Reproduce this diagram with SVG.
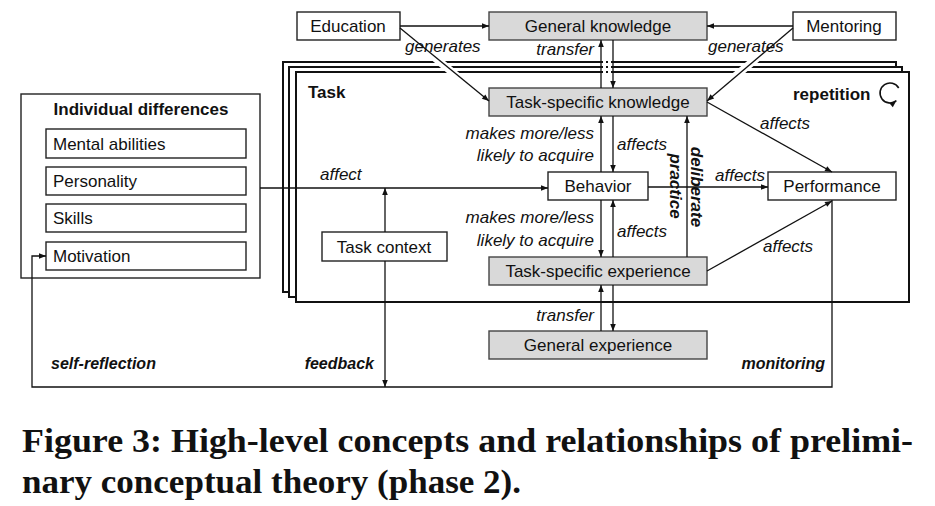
<svg xmlns="http://www.w3.org/2000/svg" width="935" height="506" viewBox="0 0 935 506">
<defs>
<marker id="ah" viewBox="0 0 10 10" refX="10" refY="5" markerWidth="8" markerHeight="7" markerUnits="userSpaceOnUse" orient="auto-start-reverse"><path d="M0,1 L10,5 L0,9 z" fill="#111"/></marker>
<style>
.box{fill:#fff;stroke:#222;stroke-width:1.4}
.gbox{fill:#d9d9d9;stroke:#444;stroke-width:1.4}
.frame{fill:#fff;stroke:#111;stroke-width:2}
.t{font-family:"Liberation Sans",Arial,sans-serif;font-size:17px;fill:#111}
.c{text-anchor:middle}
.r{text-anchor:end}
.i{font-style:italic}
.b{font-weight:bold}
.ln{fill:none;stroke:#111;stroke-width:1.3}
.a{marker-end:url(#ah)}
.halo{stroke:#fff;stroke-width:8;fill:none}
.cap{font-family:"Liberation Serif","Times New Roman",serif;font-weight:bold;font-size:33px;fill:#111}
</style>
</defs>
<rect width="935" height="506" fill="#fff"/>
<g id="task-frame">
<rect class="frame" x="283" y="62" width="613" height="230"/>
<rect class="frame" x="289" y="67" width="613" height="230"/>
<rect class="frame" x="296" y="72" width="613" height="230"/>
<rect x="603" y="58" width="8" height="16" fill="#fff"/>
<g fill="#111"><rect x="606" y="61" width="2" height="2"/><rect x="606" y="66" width="2" height="2"/><rect x="606" y="71" width="2" height="2"/></g>
<path class="halo" d="M434,57 L458,77 M757,58 L733,78"/>
<text class="t b" x="308" y="98">Task</text>
<text class="t b" x="793" y="100">repetition</text>
<path d="M898.7,88 A10,10 0 1 0 896.4,100.7" fill="none" stroke="#111" stroke-width="1.6" marker-end="url(#ah)"/>
</g>
<g id="individual-differences">
<rect class="box" x="21" y="94" width="239" height="184"/>
<text class="t b c" x="141" y="115">Individual differences</text>
</g>
<g id="mental-abilities"><rect class="box" x="46" y="129" width="200" height="29"/><text class="t" x="53" y="150">Mental abilities</text></g>
<g id="personality"><rect class="box" x="46" y="167" width="200" height="28"/><text class="t" x="53" y="187">Personality</text></g>
<g id="skills"><rect class="box" x="46" y="204" width="200" height="28"/><text class="t" x="53" y="224">Skills</text></g>
<g id="motivation"><rect class="box" x="46" y="242" width="200" height="28"/><text class="t" x="53" y="262">Motivation</text></g>
<g id="education"><rect class="box" x="297" y="12" width="103" height="28"/><text class="t c" x="348" y="32">Education</text></g>
<g id="general-knowledge"><rect class="gbox" x="489" y="12" width="218" height="28"/><text class="t c" x="598" y="32">General knowledge</text></g>
<g id="mentoring"><rect class="box" x="793" y="12" width="103" height="28"/><text class="t c" x="844" y="32">Mentoring</text></g>
<g id="task-specific-knowledge"><rect class="gbox" x="489" y="88" width="218" height="28"/><text class="t c" x="598" y="108">Task-specific knowledge</text></g>
<g id="behavior"><rect class="box" x="548" y="172" width="100" height="28"/><text class="t c" x="598" y="192">Behavior</text></g>
<g id="performance"><rect class="box" x="768" y="172" width="128" height="28"/><text class="t c" x="832" y="192">Performance</text></g>
<g id="task-context"><rect class="box" x="322" y="232" width="125" height="29"/><text class="t c" x="384" y="253">Task context</text></g>
<g id="task-specific-experience"><rect class="gbox" x="489" y="257" width="218" height="28"/><text class="t c" x="598" y="277">Task-specific experience</text></g>
<g id="general-experience"><rect class="gbox" x="489" y="331" width="218" height="28"/><text class="t c" x="598" y="351">General experience</text></g>
<g id="connectors">
<path class="ln a" d="M400,26 L489,26"/>
<path class="ln a" d="M793,26 L707,26"/>
<path class="ln a" d="M400,28 L489,101"/>
<path class="ln a" d="M793,28 L707,101"/>
<path class="ln a" d="M601,88 L601,40"/>
<path class="ln a" d="M613,40 L613,88"/>
<path class="ln a" d="M601,172 L601,116"/>
<path class="ln a" d="M613,116 L613,172"/>
<path class="ln a" d="M260,188 L548,188"/>
<path class="ln a" d="M385,232 L385,188"/>
<path class="ln a" d="M648,187 L768,187"/>
<path class="ln a" d="M707,102 L832,172"/>
<path class="ln a" d="M707,271 L832,201"/>
<path class="ln a" d="M687,257 L687,116"/>
<path class="ln a" d="M601,200 L601,257"/>
<path class="ln a" d="M613,257 L613,200"/>
<path class="ln a" d="M601,331 L601,285"/>
<path class="ln a" d="M613,285 L613,331"/>
<path class="ln a" d="M385,261 L385,387"/>
<path class="ln a" d="M832,200 L832,387 L32,387 L32,256 L46,256"/>
</g>
<g id="labels">
<text class="t i" x="405" y="52">generates</text>
<text class="t i" x="708" y="52">generates</text>
<text class="t i r" x="594" y="55">transfer</text>
<text class="t i r" x="594" y="139">makes more/less</text>
<text class="t i r" x="594" y="161">likely to acquire</text>
<text class="t i" x="617" y="150">affects</text>
<text class="t i" x="320" y="180">affect</text>
<text class="t i" x="715" y="181">affects</text>
<text class="t i" x="760" y="129">affects</text>
<text class="t i" x="763" y="252">affects</text>
<text class="t i r" x="594" y="223">makes more/less</text>
<text class="t i r" x="594" y="246">likely to acquire</text>
<text class="t i" x="617" y="237">affects</text>
<text class="t i r" x="594" y="321">transfer</text>
<text class="t i b" transform="translate(697,187) rotate(90)" text-anchor="middle" dy="6">deliberate</text>
<text class="t i b" transform="translate(676,186) rotate(90)" text-anchor="middle" dy="6">practice</text>
<text class="t i b" x="51" y="369" style="font-size:16px">self-reflection</text>
<text class="t i b r" x="374" y="369" style="font-size:16px">feedback</text>
<text class="t i b r" x="825" y="369" style="font-size:16px">monitoring</text>
</g>
<g id="caption">
<text class="cap" x="22" y="452" textLength="891" lengthAdjust="spacingAndGlyphs">Figure 3: High-level concepts and relationships of prelimi-</text>
<text class="cap" x="22" y="493" textLength="499" lengthAdjust="spacingAndGlyphs">nary conceptual theory (phase 2).</text>
</g>
</svg>
